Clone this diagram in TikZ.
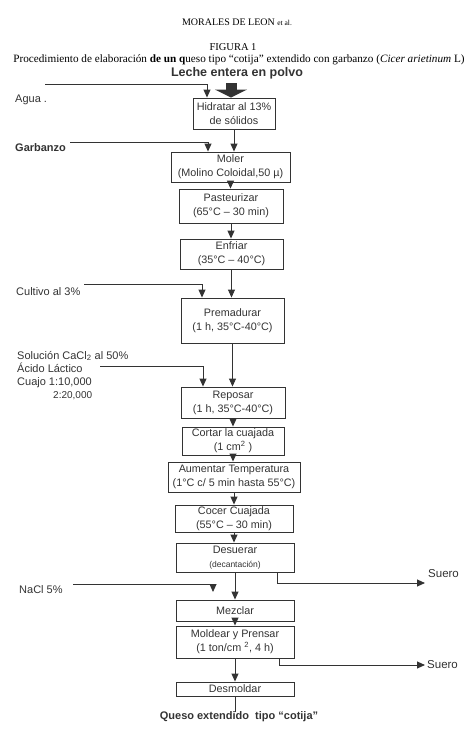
\documentclass[tikz,border=0pt]{standalone}
\usepackage{fontspec}
\setmainfont{Liberation Serif}
\newfontfamily\arial{Liberation Sans}
\usetikzlibrary{arrows.meta}
\definecolor{tinta}{HTML}{333333}

\begin{document}
\begin{tikzpicture}[x=1pt, y=-1pt,
    caja/.style={draw=tinta, line width=0.9pt, text=tinta, align=center, inner sep=0pt,
        font=\arial\fontsize{10.8}{14}\selectfont},
    lado/.style={text=tinta, font=\arial\fontsize{11}{13}\selectfont, inner sep=0pt},
    flecha/.style={draw=tinta, line width=0.9pt, -{Triangle[length=8pt, width=7pt]}}]
    \useasboundingbox (0,0) rectangle (474,732);

    % 見出し
    \node[font=\fontsize{10}{11}\selectfont] (autor) at (237,22) {MORALES DE LEON {\fontsize{7.5}{9}\selectfont et al.}};
    \node[font=\fontsize{10.5}{12}\selectfont] (fig) at (233,47) {FIGURA 1};
    \node[font=\fontsize{11.2}{12}\selectfont] (titulo) at (239,60) {Procedimiento de elaboración \textbf{de un q}ueso tipo “cotija” extendido con garbanzo (\textit{Cicer arietinum} L)};
    \node[lado, font=\arial\bfseries\fontsize{12.5}{14}\selectfont] (leche) at (237,73) {Leche entera en polvo};

    % 工程の箱
    \node[caja, minimum width=82pt, minimum height=31pt] (hid) at (234,113.5) {Hidratar al 13\%\\de sólidos};
    \node[caja, minimum width=119pt, minimum height=30pt] (mol) at (230.5,167) {Moler\\(Molino Coloidal,50 µ)};
    \node[caja, minimum width=104pt, minimum height=34pt] (pas) at (231,206) {Pasteurizar\\(65°C – 30 min)};
    \node[caja, minimum width=103pt, minimum height=30pt] (enf) at (231.5,254) {Enfriar\\(35°C – 40°C)};
    \node[caja, minimum width=103pt, minimum height=45pt] (pre) at (232.5,320.5) {Premadurar\\(1 h, 35°C-40°C)};
    \node[caja, minimum width=104pt, minimum height=31pt] (rep) at (233,402.5) {Reposar\\(1 h, 35°C-40°C)};
    \node[caja, minimum width=102pt, minimum height=28pt] (cor) at (233,441) {Cortar la cuajada\\(1 cm\textsuperscript{2} )};
    \node[caja, minimum width=132pt, minimum height=30pt] (aum) at (234,477) {Aumentar Temperatura\\(1°C c/ 5 min hasta 55°C)};
    \node[caja, minimum width=118pt, minimum height=27pt] (coc) at (234,518.5) {Cocer Cuajada\\(55°C – 30 min)};
    \node[caja, minimum width=118pt, minimum height=29pt] (des) at (235,557.5) {Desuerar\\{\fontsize{8.5}{10}\selectfont (decantación)}};
    \node[caja, minimum width=118pt, minimum height=21pt] (mez) at (235,610.5) {Mezclar};
    \node[caja, minimum width=118pt, minimum height=32pt] (mold) at (235,642) {Moldear y Prensar\\(1 ton/cm \textsuperscript{2}, 4 h)};
    \node[caja, minimum width=118pt, minimum height=14pt] (dsm) at (235,689) {Desmoldar};
    \node[lado, font=\arial\bfseries\fontsize{11}{13}\selectfont] (queso) at (239,717) {Queso extendido\ \ tipo “cotija”};

    % 入力と出力
    \node[lado, anchor=west] (agua) at (15,100) {Agua .};
    \node[lado, anchor=west, font=\arial\bfseries\fontsize{11}{13}\selectfont] (garb) at (15,148) {Garbanzo};
    \node[lado, anchor=west] (cult) at (16,292) {Cultivo al 3\%};
    \node[lado, anchor=north west, align=left] (sol) at (17,351) {Solución CaCl\textsubscript{2} al 50\%\\Ácido Láctico\\Cuajo 1:10,000\\\hspace*{36pt}{\fontsize{10}{13}\selectfont 2:20,000}};
    \node[lado, anchor=west] (nacl) at (19,590) {NaCl 5\%};
    \node[lado, anchor=west, font=\arial\fontsize{11.5}{13}\selectfont] (suero1) at (428,574) {Suero};
    \node[lado, anchor=west, font=\arial\fontsize{11.5}{13}\selectfont] (suero2) at (427,665) {Suero};

    \coordinate (lt) at (231,83);
    \coordinate (a0) at (45,84);
    \coordinate (g0) at (70,142);
    \coordinate (c0) at (84,284);
    \coordinate (s0) at (100,366);
    \coordinate (n0) at (73,584);
    \coordinate (n1) at (213,592);
    \coordinate (e1) at (425,583);
    \coordinate (e2) at (425,665);

    % 太い矢印
    \draw[draw=tinta, line width=11pt, -{Triangle[length=8pt, width=32pt]}] (lt) -- (lt |- hid.north);

    % 主な流れ
    \foreach \a/\b in {hid/mol, mol/pas, pas/enf, enf/pre, pre/rep, rep/cor, cor/aum, aum/coc, coc/des, des/mez, mez/mold, mold/dsm}
        \draw[flecha] (\a.south) -- (\a.south |- \b.north);
    \draw[draw=tinta, line width=0.9pt] (dsm.south) -- (dsm.south |- queso.north);

    % 側の流れ
    \draw[flecha] (a0) -| ([xshift=-27pt]hid.north);
    \draw[flecha] (g0) -| ([xshift=-22.5pt]mol.north);
    \draw[flecha] (c0) -| ([xshift=-30.5pt]pre.north);
    \draw[flecha] (s0) -| ([xshift=-30pt]rep.north);
    \draw[flecha] (n0) -| (n1);
    \draw[flecha] ([xshift=-17pt]des.south east) |- (e1);
    \draw[flecha] ([xshift=-15pt]mold.south east) |- (e2);
\end{tikzpicture}
\end{document}
